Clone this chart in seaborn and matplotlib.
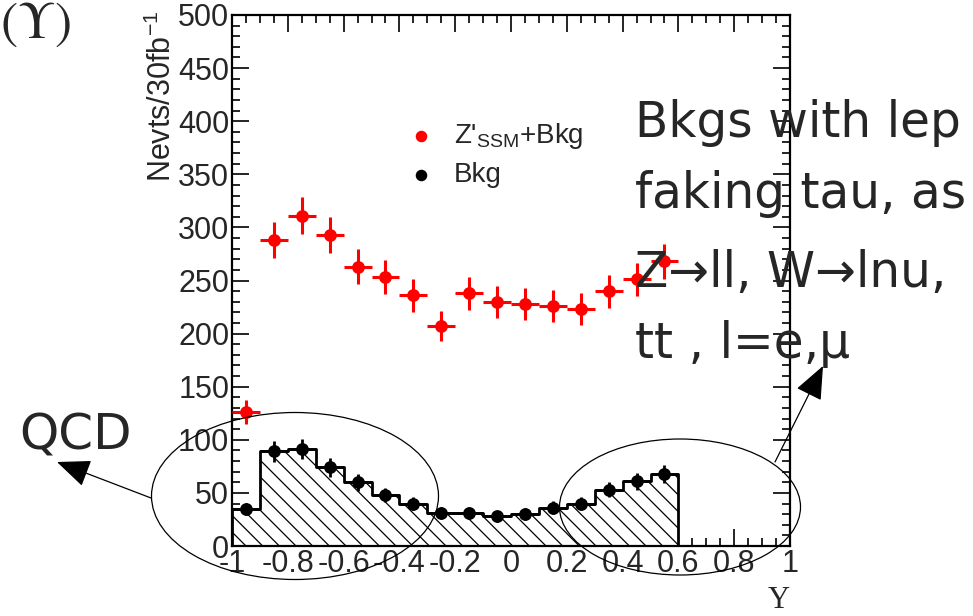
import numpy as np
import matplotlib
matplotlib.use("Agg")
import matplotlib.pyplot as plt
from matplotlib.patches import Ellipse, FancyArrowPatch
from matplotlib.ticker import MultipleLocator
import seaborn as sns

# Rapidity bins (width 0.1) and event yields per 30 fb^-1
bin_edges = [-1.0, -0.9, -0.8, -0.7, -0.6, -0.5, -0.4, -0.3, -0.2, -0.1, 0.0,
             0.1, 0.2, 0.3, 0.4, 0.5, 0.6, 0.7, 0.8, 0.9, 1.0]
bin_centres = [-0.95, -0.85, -0.75, -0.65, -0.55, -0.45, -0.35, -0.25,
               -0.15, -0.05, 0.05, 0.15, 0.25, 0.35, 0.45, 0.55]
signal_plus_bkg = [126, 288, 311, 293, 263, 253, 236, 207,
                   238, 230, 228, 226, 223, 240, 251, 268]
background = [35, 89, 91, 74, 60, 48, 40, 31,
              31, 28, 30, 36, 40, 53, 61, 68]

x_ticks = [-1, -0.8, -0.6, -0.4, -0.2, 0, 0.2, 0.4, 0.6, 0.8, 1]
x_tick_labels = ["-1", "-0.8", "-0.6", "-0.4", "-0.2", "0", "0.2", "0.4", "0.6", "0.8", "1"]
y_ticks = [0, 50, 100, 150, 200, 250, 300, 350, 400, 450, 500]

note_lines = ["Bkgs with lep", "faking tau, as", "Z\u2192ll, W\u2192lnu,", "tt , l=e,\u03bc"]

sns.set_style("ticks")
plt.rcParams["font.family"] = ["Liberation Sans", "DejaVu Sans"]
plt.rcParams["mathtext.fontset"] = "custom"
plt.rcParams["mathtext.rm"] = "Liberation Sans"
plt.rcParams["mathtext.it"] = "Liberation Sans:italic"
plt.rcParams["hatch.linewidth"] = 0.9
plt.rcParams["hatch.color"] = "black"

W, H = 973, 616
fig = plt.figure(figsize=(W / 100, H / 100), dpi=100)


def fx(px):
    return px / W


def fy(py):
    return 1 - py / H


ax = fig.add_axes([fx(232), fy(546), (790 - 232) / W, (546 - 15) / H])

# Background histogram: hatched step histogram
sns.histplot(x=bin_centres, weights=background, bins=bin_edges, element="step",
             fill=True, color="black", facecolor="white", edgecolor="black",
             linewidth=2.0, alpha=1.0, hatch="\\\\", ax=ax, zorder=2)

bkg = np.array(background, dtype=float)
sig = np.array(signal_plus_bkg, dtype=float)

ax.errorbar(bin_centres, bkg, yerr=np.sqrt(bkg), xerr=0.05, fmt="none",
            ecolor="black", elinewidth=2.0, capsize=0, zorder=3)
sns.scatterplot(x=bin_centres, y=bkg, color="black", s=85, edgecolor="black",
                linewidth=0, ax=ax, zorder=4, label="Bkg")

ax.errorbar(bin_centres, sig, yerr=np.sqrt(sig), xerr=0.05, fmt="none",
            ecolor="#ff0000", elinewidth=2.2, capsize=0, zorder=5)
sns.scatterplot(x=bin_centres, y=sig, color="#ff0000", s=85, edgecolor="#ff0000",
                linewidth=0, ax=ax, zorder=6, label=r"Z'$_{\rm SSM}$+Bkg")

ax.set_xlim(-1, 1)
ax.set_ylim(0, 500)
ax.set_xticks(x_ticks)
ax.set_xticklabels(x_tick_labels)
ax.set_yticks(y_ticks)
ax.xaxis.set_minor_locator(MultipleLocator(0.05))
ax.yaxis.set_minor_locator(MultipleLocator(10))
ax.tick_params(which="both", direction="in", top=True, right=True, width=1.2,
               color="black")
ax.tick_params(which="major", length=12, labelsize=22, pad=2)
ax.tick_params(which="minor", length=6)
for s in ax.spines.values():
    s.set_linewidth(1.6)
    s.set_color("black")

ax.set_ylabel("")
ax.set_xlabel("Y", loc="right", fontfamily="Liberation Serif", fontsize=22,
              labelpad=5)
fig.text(fx(162), fy(11), r"Nevts/30fb$^{-1}$", rotation=90, ha="center",
         va="top", fontsize=22)

handles, labels = ax.get_legend_handles_labels()
order = [labels.index(r"Z'$_{\rm SSM}$+Bkg"), labels.index("Bkg")]
ax.legend([handles[i] for i in order], [labels[i] for i in order],
          frameon=False, fontsize=20, loc="upper left",
          bbox_to_anchor=(fx(379), fy(96)), bbox_transform=fig.transFigure,
          handletextpad=0.6, labelspacing=0.4, handlelength=1.2,
          markerscale=0.9)

# Panel tag
fig.text(fx(0), fy(0), r"$(\Upsilon)$", ha="left", va="top", fontsize=37,
         math_fontfamily="stix")

# Annotations
for line, base in zip(note_lines, [137, 208, 287, 358]):
    fig.text(fx(635), fy(base), line, ha="left", va="baseline", fontsize=35,
             fontfamily="DejaVu Sans", zorder=10)
fig.text(fx(19), fy(450), "QCD", ha="left", va="baseline", fontsize=36,
         fontfamily="DejaVu Sans")

fig.add_artist(Ellipse((fx(295), fy(496)), 287 / W, 167 / H, fill=False,
                       edgecolor="black", linewidth=0.9,
                       transform=fig.transFigure))
fig.add_artist(Ellipse((fx(680), fy(507)), 241 / W, 136 / H, fill=False,
                       edgecolor="black", linewidth=0.9,
                       transform=fig.transFigure))
fig.add_artist(FancyArrowPatch((fx(151), fy(498)), (fx(57), fy(462)),
                               transform=fig.transFigure,
                               arrowstyle="-|>,head_length=0.6,head_width=0.25",
                               mutation_scale=35, color="black", linewidth=0.9,
                               shrinkA=0, shrinkB=0))
fig.add_artist(FancyArrowPatch((fx(775), fy(462)), (fx(823), fy(366)),
                               transform=fig.transFigure,
                               arrowstyle="-|>,head_length=0.6,head_width=0.25",
                               mutation_scale=35, color="black", linewidth=0.9,
                               shrinkA=0, shrinkB=0))

fig.savefig("out.png", dpi=100, facecolor="white")
